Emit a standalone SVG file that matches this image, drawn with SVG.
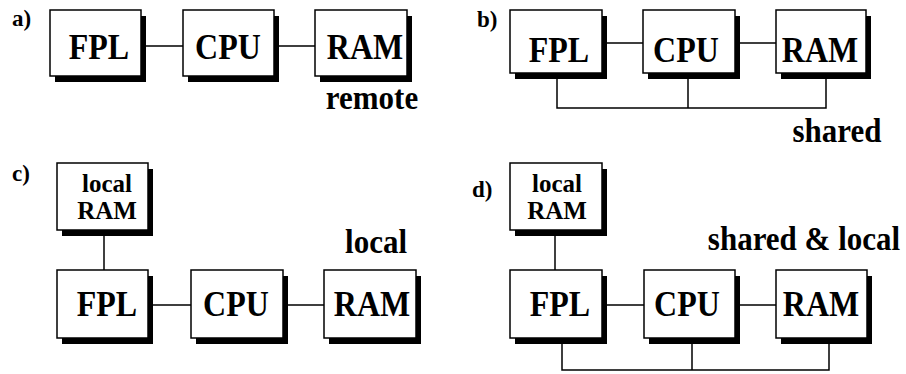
<svg xmlns="http://www.w3.org/2000/svg" width="906" height="374" viewBox="0 0 906 374">
  <rect width="906" height="374" fill="#fff"/>

  <!-- wires -->
  <g id="connectors" stroke="#000" stroke-width="1.5" fill="none">
    <!-- a) remote -->
    <path d="M141 46H183M274 46H315"/>
    <!-- b) shared -->
    <path d="M602 43H643M735 43H776"/>
    <path d="M557 79V108H826V79M688 79V108"/>
    <!-- c) local -->
    <path d="M104 236V270"/>
    <path d="M148 305H191M283 305H324"/>
    <!-- d) shared & local -->
    <path d="M555 236V270"/>
    <path d="M602 305H644M735 305H776"/>
    <path d="M562 344V370H829V344M692 344V370"/>
  </g>

  <!-- panel tags -->
  <g id="tags" font-size="23" font-weight="bold">
    <text font-family="Times New Roman" x="12" y="26">a)</text>
    <text font-family="Times New Roman" x="477" y="27">b)</text>
    <text font-family="Times New Roman" x="12" y="181">c)</text>
    <text font-family="Times New Roman" x="472" y="197">d)</text>
  </g>

  <!-- boxes: black drop shadow, white face, bold label -->
  <g font-size="32" font-weight="bold" text-anchor="middle">
    <!-- a) -->
    <g id="a-fpl"><rect fill="#000" x="55" y="16" width="91" height="66"/><rect fill="#fff" stroke="#000" stroke-width="1.5" x="50" y="10" width="91" height="66"/>
      <text font-family="Times New Roman" transform="translate(99 59) scale(1 1.12)">FPL</text></g>
    <g id="a-cpu"><rect fill="#000" x="188" y="16" width="91" height="66"/><rect fill="#fff" stroke="#000" stroke-width="1.5" x="183" y="10" width="91" height="66"/>
      <text font-family="Times New Roman" transform="translate(228 59) scale(1 1.12)">CPU</text></g>
    <g id="a-ram"><rect fill="#000" x="320" y="16" width="92" height="66"/><rect fill="#fff" stroke="#000" stroke-width="1.5" x="315" y="10" width="92" height="66"/>
      <text font-family="Times New Roman" transform="translate(365 59) scale(1 1.12)">RAM</text></g>

    <!-- b) -->
    <g id="b-fpl"><rect fill="#000" x="515" y="16" width="92" height="63"/><rect fill="#fff" stroke="#000" stroke-width="1.5" x="510" y="10" width="92" height="63"/>
      <text font-family="Times New Roman" transform="translate(559 62) scale(1 1.12)">FPL</text></g>
    <g id="b-cpu"><rect fill="#000" x="648" y="16" width="92" height="63"/><rect fill="#fff" stroke="#000" stroke-width="1.5" x="643" y="10" width="92" height="63"/>
      <text font-family="Times New Roman" transform="translate(686 62) scale(1 1.12)">CPU</text></g>
    <g id="b-ram"><rect fill="#000" x="781" y="16" width="90" height="63"/><rect fill="#fff" stroke="#000" stroke-width="1.5" x="776" y="10" width="90" height="63"/>
      <text font-family="Times New Roman" transform="translate(820 62) scale(1 1.12)">RAM</text></g>

    <!-- c) -->
    <g id="c-localram" font-size="25"><rect fill="#000" x="62" y="169" width="91" height="67"/><rect fill="#fff" stroke="#000" stroke-width="1.5" x="57" y="163" width="91" height="67"/>
      <text font-family="Times New Roman" x="107" y="192">local</text>
      <text font-family="Times New Roman" x="107" y="219">RAM</text></g>
    <g id="c-fpl"><rect fill="#000" x="62" y="276" width="91" height="68"/><rect fill="#fff" stroke="#000" stroke-width="1.5" x="57" y="270" width="91" height="68"/>
      <text font-family="Times New Roman" transform="translate(107 316) scale(1 1.12)">FPL</text></g>
    <g id="c-cpu"><rect fill="#000" x="196" y="276" width="92" height="68"/><rect fill="#fff" stroke="#000" stroke-width="1.5" x="191" y="270" width="92" height="68"/>
      <text font-family="Times New Roman" transform="translate(236 316) scale(1 1.12)">CPU</text></g>
    <g id="c-ram"><rect fill="#000" x="329" y="276" width="92" height="68"/><rect fill="#fff" stroke="#000" stroke-width="1.5" x="324" y="270" width="92" height="68"/>
      <text font-family="Times New Roman" transform="translate(372 316) scale(1 1.12)">RAM</text></g>

    <!-- d) -->
    <g id="d-localram" font-size="25"><rect fill="#000" x="515" y="169" width="92" height="67"/><rect fill="#fff" stroke="#000" stroke-width="1.5" x="510" y="163" width="92" height="67"/>
      <text font-family="Times New Roman" x="557" y="192">local</text>
      <text font-family="Times New Roman" x="557" y="219">RAM</text></g>
    <g id="d-fpl"><rect fill="#000" x="515" y="276" width="92" height="68"/><rect fill="#fff" stroke="#000" stroke-width="1.5" x="510" y="270" width="92" height="68"/>
      <text font-family="Times New Roman" transform="translate(560 316) scale(1 1.12)">FPL</text></g>
    <g id="d-cpu"><rect fill="#000" x="649" y="276" width="91" height="68"/><rect fill="#fff" stroke="#000" stroke-width="1.5" x="644" y="270" width="91" height="68"/>
      <text font-family="Times New Roman" transform="translate(687 316) scale(1 1.12)">CPU</text></g>
    <g id="d-ram"><rect fill="#000" x="781" y="276" width="91" height="68"/><rect fill="#fff" stroke="#000" stroke-width="1.5" x="776" y="270" width="91" height="68"/>
      <text font-family="Times New Roman" transform="translate(821 316) scale(1 1.12)">RAM</text></g>
  </g>

  <!-- memory-arrangement captions -->
  <g font-size="31" font-weight="bold" text-anchor="middle">
    <text id="a-label" font-family="Times New Roman" transform="translate(372 109) scale(1 1.1)">remote</text>
    <text id="b-label" font-family="Times New Roman" transform="translate(837 142) scale(1 1.1)">shared</text>
    <text id="c-label" font-family="Times New Roman" transform="translate(376 253) scale(1 1.1)">local</text>
    <text id="d-label" font-family="Times New Roman" transform="translate(804 250) scale(1 1.1)">shared &amp; local</text>
  </g>
</svg>
